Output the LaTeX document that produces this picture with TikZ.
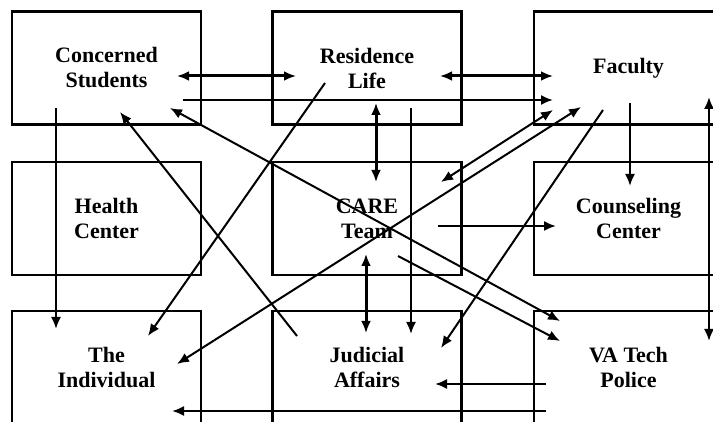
\documentclass[tikz,border=0pt]{standalone}
\usepackage{fontspec}
\setmainfont{Liberation Serif}
\usetikzlibrary{arrows.meta}
\tikzset{
  unit/.style={draw, line width=2.4pt, minimum width=189pt, minimum height=113pt,
    align=center, font=\fontsize{22}{25}\selectfont\bfseries},
  link/.style={line width=2pt, -{Latex[length=12pt,width=10pt]}},
  both/.style={line width=3pt, {Latex[length=12pt,width=10pt]}-{Latex[length=12pt,width=10pt]}},
}
\begin{document}
\begin{tikzpicture}[x=1pt,y=-1pt]
      \useasboundingbox (0,0) rectangle (713,422);
      \clip (0,0) rectangle (713,422);
      \node[unit] at (106.5,68) (cs) {Concerned\\Students};
      \node[unit] at (367,68) (rl) {Residence\\Life};
      \node[unit] at (628.5,68) (fa) {Faculty};
      \node[unit] at (106.5,218.5) (hc) {Health\\Center};
      \node[unit] at (367,218.5) (ct) {CARE\\Team};
      \node[unit] at (628.5,218.5) (cc) {Counseling\\Center};
      \node[unit] at (106.5,367.5) (ti) {The\\Individual};
      \node[unit] at (367,367.5) (ja) {Judicial\\Affairs};
      \node[unit] at (628.5,367.5) (vp) {VA Tech\\Police};
      \draw[both] ([shift={(70.5,8)}]cs.center) -- ([shift={(-71,8)}]rl.center);
      \draw[both] ([shift={(73,8)}]rl.center) -- ([shift={(-75.5,8)}]fa.center);
      \draw[link] ([shift={(76.5,32)}]cs.center) -- ([shift={(-75.5,32)}]fa.center);
      \draw[link] ([shift={(-50.5,40)}]cs.center) -- ([shift={(-50.5,-38.5)}]ti.center);
      \draw[both] ([shift={(9,35)}]rl.center) -- ([shift={(9,-36.5)}]ct.center);
      \draw[link] ([shift={(44,40)}]rl.center) -- ([shift={(44,-33.5)}]ja.center);
      \draw[both] ([shift={(-1,35.5)}]ct.center) -- ([shift={(-1,-34.5)}]ja.center);
      \draw[link] ([shift={(1.5,35)}]fa.center) -- ([shift={(1.5,-32.5)}]cc.center);
      \draw[link] ([shift={(71,7.5)}]ct.center) -- ([shift={(-72.5,7.5)}]cc.center);
      \draw[link,{Latex[length=12pt,width=10pt]}-{Latex[length=12pt,width=10pt]}] ([shift={(74,-36.5)}]ct.center) -- ([shift={(-75.5,42)}]fa.center);
      \draw[link,{Latex[length=12pt,width=10pt]}-{Latex[length=12pt,width=10pt]}] ([shift={(70.5,-3.5)}]ti.center) -- ([shift={(-47.5,39)}]fa.center);
      \draw[link] ([shift={(-42,15)}]rl.center) -- ([shift={(41.5,-31.5)}]ti.center);
      \draw[link] ([shift={(-70,-31.5)}]ja.center) -- ([shift={(13.5,44)}]cs.center);
      \draw[link,{Latex[length=12pt,width=10pt]}-{Latex[length=12pt,width=10pt]}] ([shift={(63.5,40)}]cs.center) -- ([shift={(-68.5,-46.5)}]vp.center);
      \draw[link] ([shift={(31,37.5)}]ct.center) -- ([shift={(-68.5,-26.5)}]vp.center);
      \draw[link] ([shift={(-25.5,42)}]fa.center) -- ([shift={(74,-19.5)}]ja.center);
      \draw[link] ([shift={(-82.5,16.5)}]vp.center) -- ([shift={(68,16.5)}]ja.center);
      \draw[link] ([shift={(-82.5,43.5)}]vp.center) -- ([shift={(65.5,43.5)}]ti.center);
      \draw[link,{Latex[length=12pt,width=10pt]}-{Latex[length=12pt,width=10pt]}] ([shift={(80.5,29)}]fa.center) -- ([shift={(80.5,-26.5)}]vp.center);
    \end{tikzpicture}
\end{document}
